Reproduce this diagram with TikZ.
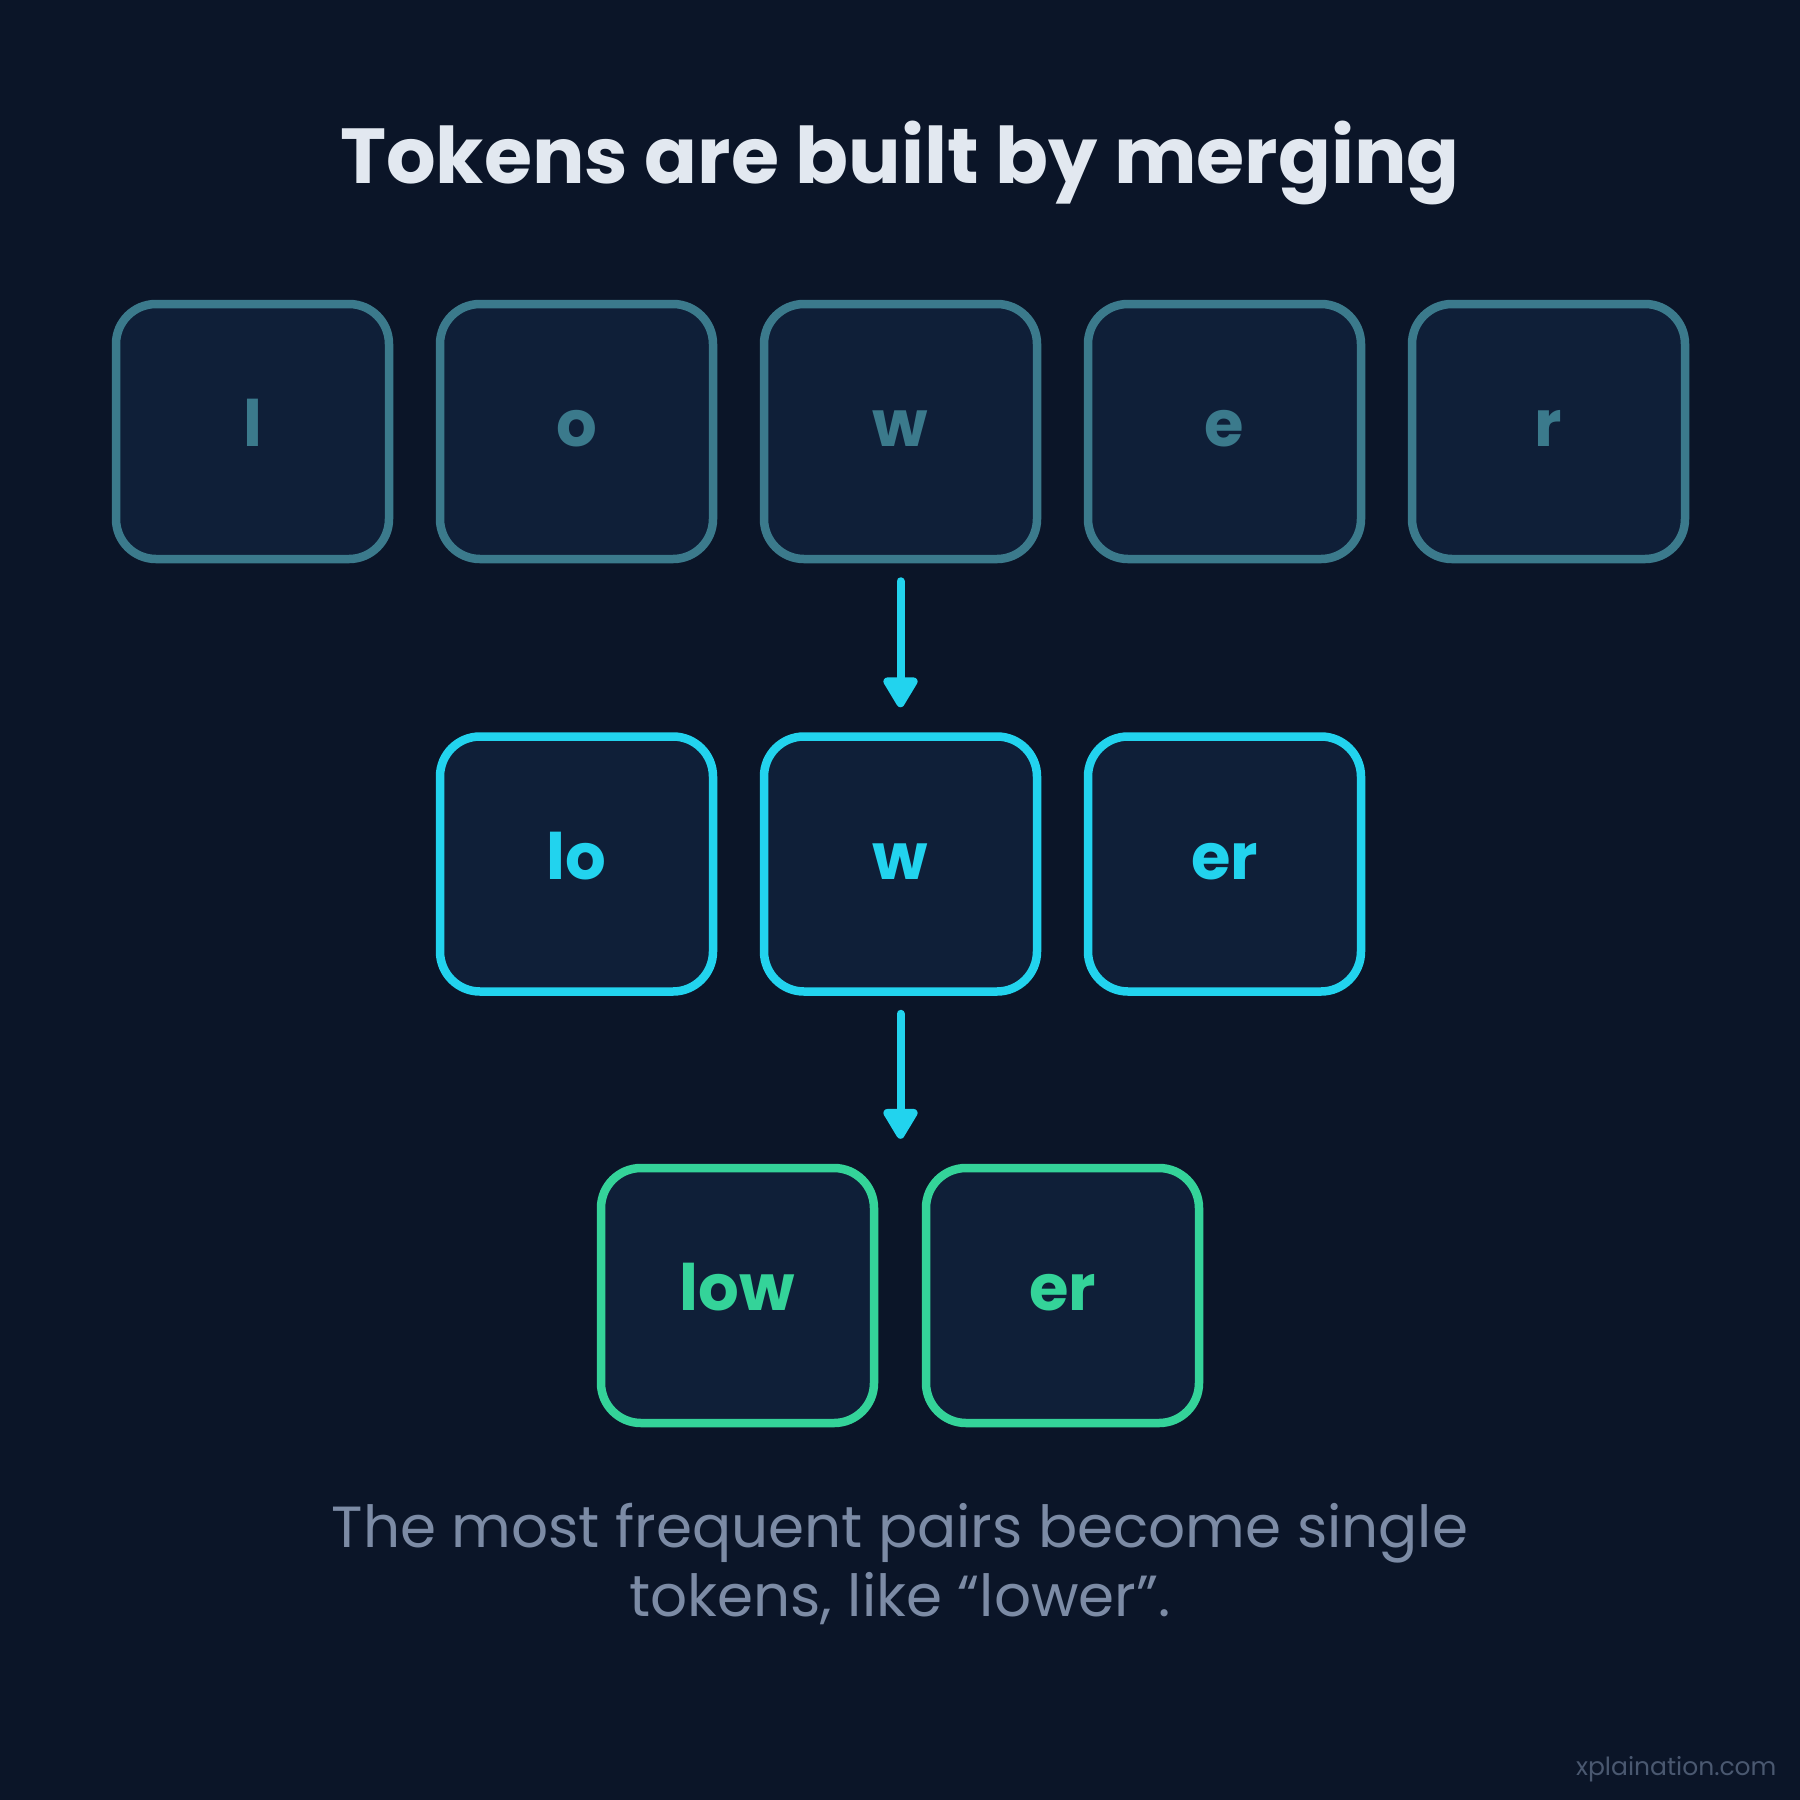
\documentclass[tikz,border=0pt]{standalone}
\usepackage{fontspec}
\setmainfont{Poppins}
\usetikzlibrary{arrows.meta}
\definecolor{bgc}{HTML}{0B1528}
\definecolor{boxfill}{HTML}{0F1F38}
\definecolor{rowone}{HTML}{3B7A8C}
\definecolor{rowtwo}{HTML}{22D3EE}
\definecolor{rowthree}{HTML}{34D399}
\definecolor{titlec}{HTML}{E2E8F0}
\definecolor{subc}{HTML}{7C8BA5}
\definecolor{markc}{HTML}{4A5870}
\begin{document}
\begin{tikzpicture}[x=1pt,y=-1pt,
  tok/.style={draw, line width=8.5pt, rounded corners=40pt, fill=boxfill,
    minimum width=273pt, minimum height=255pt, inner sep=0pt,
    text height=40pt, text depth=10pt,
    font=\bfseries\fontsize{64}{64}\selectfont},
  tokone/.style={tok, draw=rowone, text=rowone},
  toktwo/.style={tok, draw=rowtwo, text=rowtwo},
  tokthree/.style={tok, draw=rowthree, text=rowthree},
  conn/.style={draw=rowtwo, line width=8pt, line cap=round,
    -{Triangle[length=34pt,width=38pt,round]}}]
\fill[bgc] (0,0) rectangle (1800,1800);
\useasboundingbox (0,0) rectangle (1800,1800);
\node[font=\bfseries\fontsize{78}{94}\selectfont, text=titlec, anchor=base] (title) at (900,183) {Tokens are built by merging};
\node[tokone] (t1) at (252.5,431.5) {l};
\node[tokone] (t2) at (576.5,431.5) {o};
\node[tokone] (t3) at (900.5,431.5) {w};
\node[tokone] (t4) at (1224.5,431.5) {e};
\node[tokone] (t5) at (1548.5,431.5) {r};
\node[toktwo] (m1) at (576.5,864) {lo};
\node[toktwo] (m2) at (900.5,864) {w};
\node[toktwo] (m3) at (1224.5,864) {er};
\node[tokthree] (f1) at (737.5,1295.5) {low};
\node[tokthree] (f2) at (1062.5,1295.5) {er};
\draw[conn] ([yshift=-18pt]t3.south) -- ([yshift=25pt]m2.north);
\draw[conn] ([yshift=-18pt]m2.south) -- ([yshift=25pt]f1.north -| m2.north);
\node[font=\fontsize{58}{69}\selectfont, text=subc, align=center, anchor=base] (sub) at (900,1616) {The most frequent pairs become single\\tokens, like “lower”.};
\node[font=\fontsize{25}{30}\selectfont, text=markc, anchor=base east] (mark) at (1780,1775) {xplaination.com};
\end{tikzpicture}
\end{document}
